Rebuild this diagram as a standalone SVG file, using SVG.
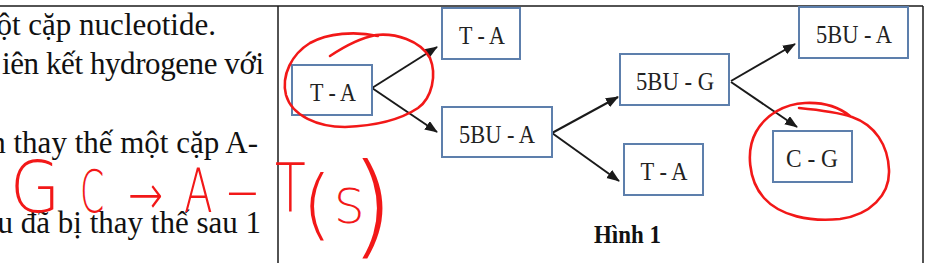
<svg xmlns="http://www.w3.org/2000/svg" width="947" height="263" viewBox="0 0 947 263">
<style>
.frame{stroke:#1a1a1a;stroke-width:1.5;fill:none}
.para{font-family:"Liberation Serif","Times New Roman",serif;font-size:31px;fill:#111;text-anchor:end}
.box{fill:#fff;stroke:#5d7fac;stroke-width:2}
.lbl{font-family:"Liberation Serif","Times New Roman",serif;font-size:26px;fill:#222;text-anchor:middle}
.edge{stroke:#1a1a1a;stroke-width:2;fill:none;marker-end:url(#ah)}
.cap{font-family:"Liberation Serif","Times New Roman",serif;font-size:25px;font-weight:bold;fill:#111}
.ink{fill:none;stroke:#f21818;stroke-width:2.6;stroke-linecap:round;stroke-linejoin:round}
.hw{font-family:"DejaVu Sans",sans-serif;font-weight:200;fill:#f21818}
</style>
<defs>
<marker id="ah" markerWidth="14" markerHeight="12" refX="12" refY="5" orient="auto" markerUnits="userSpaceOnUse">
<path d="M0,0 L13,5 L0,10 Z" fill="#1a1a1a"/>
</marker>
</defs>
<rect width="947" height="263" fill="#fff"/>
<g id="frame">
<line class="frame" x1="0" y1="6" x2="923" y2="6"/>
<line class="frame" x1="278" y1="6" x2="278" y2="263"/>
<line class="frame" x1="923" y1="6" x2="923" y2="263"/>
</g>
<g id="paragraph">
<text class="para" x="216" y="35">một cặp nucleotide.</text>
<text class="para" x="264" y="74" textLength="262" lengthAdjust="spacing">iên kết hydrogene với</text>
<text class="para" x="258" y="153">ên thay thế một cặp A-</text>
<text class="para" x="261" y="233">u đã bị thay thế sau 1</text>
</g>
<g id="connectors">
<line class="edge" x1="372" y1="88" x2="437" y2="47"/>
<line class="edge" x1="372" y1="88" x2="437" y2="132"/>
<line class="edge" x1="552" y1="133" x2="618" y2="97"/>
<line class="edge" x1="552" y1="133" x2="619" y2="181"/>
<line class="edge" x1="731" y1="81" x2="795" y2="44"/>
<line class="edge" x1="731" y1="82" x2="797" y2="127"/>
</g>
<g id="n_ta1"><rect class="box" x="292" y="65" width="80" height="50"/><text class="lbl" x="333" y="101" textLength="46" lengthAdjust="spacingAndGlyphs">T - A</text></g>
<g id="n_ta2"><rect class="box" x="442" y="8" width="78" height="51"/><text class="lbl" x="482" y="44" textLength="46" lengthAdjust="spacingAndGlyphs">T - A</text></g>
<g id="n_5bua1"><rect class="box" x="442" y="107" width="110" height="50"/><text class="lbl" x="497" y="143" textLength="76" lengthAdjust="spacingAndGlyphs">5BU - A</text></g>
<g id="n_5bug"><rect class="box" x="620" y="54" width="109" height="51"/><text class="lbl" x="675" y="90" textLength="78" lengthAdjust="spacingAndGlyphs">5BU - G</text></g>
<g id="n_5bua2"><rect class="box" x="799" y="7" width="109" height="51"/><text class="lbl" x="854" y="43" textLength="76" lengthAdjust="spacingAndGlyphs">5BU - A</text></g>
<g id="n_ta3"><rect class="box" x="624" y="144" width="79" height="51"/><text class="lbl" x="664" y="180" textLength="47" lengthAdjust="spacingAndGlyphs">T - A</text></g>
<g id="n_cg"><rect class="box" x="773" y="131" width="79" height="51"/><text class="lbl" x="812" y="167" textLength="52" lengthAdjust="spacingAndGlyphs">C - G</text></g>
<g id="caption"><text class="cap" x="594" y="243" textLength="67" lengthAdjust="spacingAndGlyphs">Hình 1</text></g>
<g id="annotations">
<path class="ink" d="M330,56 C345,46 360,38 376,35 C395,33 420,40 430,58 C437,75 432,98 418,108 C400,120 372,126 345,127 C318,127 292,116 286,95 C281,75 292,54 310,43 C328,33 355,31 378,36"/>
<path class="ink" d="M799,108 C820,110 840,113 852,117 C875,125 888,145 889,170 C890,195 870,215 840,219 C810,222 780,216 764,198 C748,180 746,150 756,132 C766,114 785,104 805,103 C825,102 840,108 850,116"/>
<text class="hw" transform="translate(10,212) scale(0.9,1)" font-size="72">G</text>
<text class="hw" transform="translate(80,212) scale(0.6,1)" font-size="58">C</text>
<text class="hw" transform="translate(128,214) scale(0.75,1)" font-size="56">→</text>
<text class="hw" transform="translate(184,212) scale(0.7,1)" font-size="60">A</text>
<text class="hw" transform="translate(224,210) scale(1.7,1)" font-size="60">-</text>
<text class="hw" transform="translate(275,212) scale(0.75,1)" font-size="67">T</text>
<text class="hw" transform="translate(302,230)" font-size="76">(</text>
<text class="hw" transform="translate(334,223)" font-size="48">S</text>
<text class="hw" transform="translate(350,243)" font-size="113">)</text>
</g>
</svg>
